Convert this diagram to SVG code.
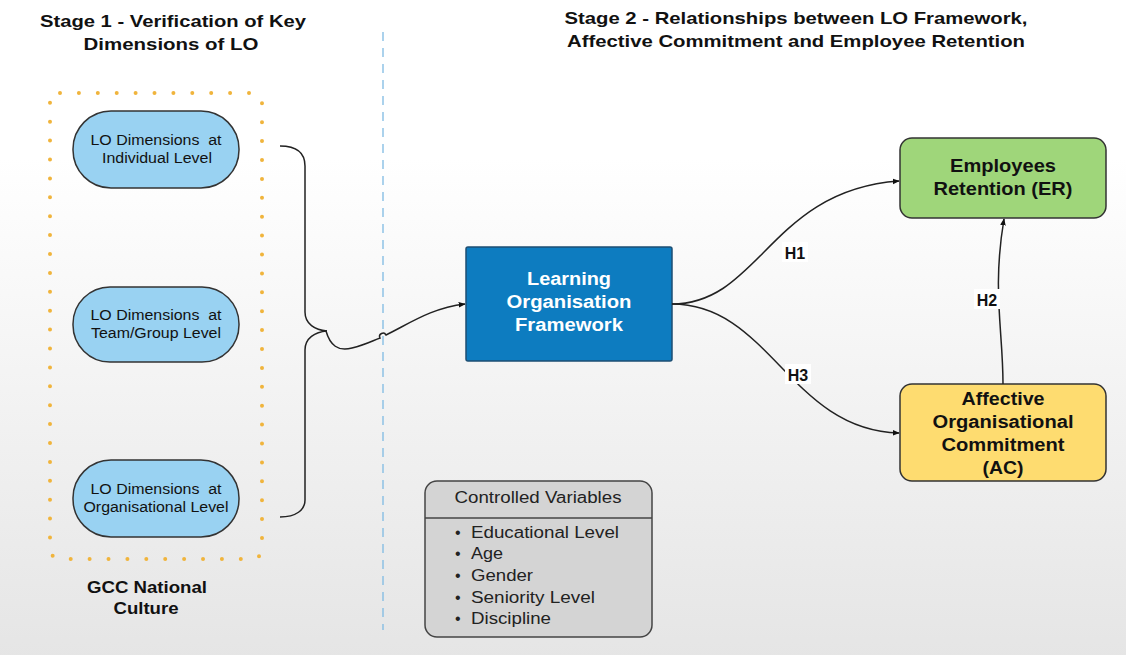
<svg xmlns="http://www.w3.org/2000/svg" width="1126" height="660" viewBox="0 0 1126 660">
<defs>
<linearGradient id="bg" x1="0" y1="0" x2="0" y2="1">
<stop offset="0.24" stop-color="#ffffff"/>
<stop offset="1" stop-color="#e5e5e5"/>
</linearGradient>
<marker id="arr" viewBox="0 0 10 10" refX="9" refY="5" markerWidth="7" markerHeight="7" orient="auto" markerUnits="userSpaceOnUse">
<path d="M0,1 L10,5 L0,9 Z" fill="#111"/>
</marker>
<style>
.t{font-family:"Liberation Sans",Arial,sans-serif;fill:#111;text-anchor:middle}
.title{font-size:17px;font-weight:bold}
.pill{fill:#99d2f2;stroke:#333;stroke-width:1.5}
.pt{font-size:14px}
.b{font-weight:bold;font-size:17.5px}
.conn{fill:none;stroke:#222;stroke-width:1.5}
.lbl{font-family:"Liberation Sans",Arial,sans-serif;font-weight:bold;font-size:16px;fill:#111;text-anchor:middle}
.cv{font-family:"Liberation Sans",Arial,sans-serif;font-size:16px;fill:#222}
</style>
</defs>
<rect x="0" y="0" width="1126" height="660" fill="url(#bg)"/>
<rect x="0" y="655" width="1126" height="5" fill="#ffffff"/>

<g id="titles">
<text class="t title" x="173" y="27" textLength="266" lengthAdjust="spacingAndGlyphs">Stage 1 - Verification of Key</text>
<text class="t title" x="171" y="50" textLength="175" lengthAdjust="spacingAndGlyphs">Dimensions of LO</text>
<text class="t title" x="796" y="24" textLength="463" lengthAdjust="spacingAndGlyphs">Stage 2 - Relationships between LO Framework,</text>
<text class="t title" x="796" y="47" textLength="458" lengthAdjust="spacingAndGlyphs">Affective Commitment and Employee Retention</text>
</g>

<g id="divider">
<line x1="383" y1="32" x2="383" y2="630" stroke="#7fbbe3" stroke-width="1.3" stroke-dasharray="9 7"/>
</g>

<g id="gcc-culture">
<rect x="50" y="93" width="212" height="466" rx="10" fill="none" stroke="#f0b43c" stroke-width="4" stroke-linecap="round" stroke-dasharray="0 18.9"/>
<text class="t title" x="147" y="593" textLength="120" lengthAdjust="spacingAndGlyphs">GCC National</text>
<text class="t title" x="146" y="614" textLength="65" lengthAdjust="spacingAndGlyphs">Culture</text>
</g>

<g id="lo-individual">
<rect class="pill" x="73" y="111" width="166" height="77" rx="38"/>
<text class="t pt" x="156" y="145" textLength="131" lengthAdjust="spacingAndGlyphs" xml:space="preserve">LO Dimensions  at</text>
<text class="t pt" x="157" y="163" textLength="110" lengthAdjust="spacingAndGlyphs">Individual Level</text>
</g>
<g id="lo-team">
<rect class="pill" x="73" y="287" width="166" height="75" rx="37"/>
<text class="t pt" x="156" y="320" textLength="131" lengthAdjust="spacingAndGlyphs" xml:space="preserve">LO Dimensions  at</text>
<text class="t pt" x="156" y="338" textLength="130" lengthAdjust="spacingAndGlyphs">Team/Group Level</text>
</g>
<g id="lo-org">
<rect class="pill" x="73" y="460" width="166" height="77" rx="38"/>
<text class="t pt" x="156" y="494" textLength="131" lengthAdjust="spacingAndGlyphs" xml:space="preserve">LO Dimensions  at</text>
<text class="t pt" x="156" y="512" textLength="145" lengthAdjust="spacingAndGlyphs">Organisational Level</text>
</g>

<g id="lo-framework">
<rect x="466" y="247" width="206" height="114" rx="2" fill="#0d7cc0" stroke="#1d4e73" stroke-width="1.5"/>
<text class="t b" x="569" y="285" textLength="84" lengthAdjust="spacingAndGlyphs" style="fill:#fff">Learning</text>
<text class="t b" x="569" y="308" textLength="125" lengthAdjust="spacingAndGlyphs" style="fill:#fff">Organisation</text>
<text class="t b" x="569" y="331" textLength="108" lengthAdjust="spacingAndGlyphs" style="fill:#fff">Framework</text>
</g>

<g id="er">
<rect x="900" y="138" width="206" height="80" rx="12" fill="#9fd67a" stroke="#333" stroke-width="1.5"/>
<text class="t b" x="1003" y="172" textLength="106" lengthAdjust="spacingAndGlyphs">Employees</text>
<text class="t b" x="1003" y="195" textLength="139" lengthAdjust="spacingAndGlyphs">Retention (ER)</text>
</g>

<g id="ac">
<rect x="900" y="384" width="206" height="97" rx="12" fill="#fedc70" stroke="#333" stroke-width="1.5"/>
<text class="t b" x="1003" y="405" textLength="83" lengthAdjust="spacingAndGlyphs">Affective</text>
<text class="t b" x="1003" y="428" textLength="141" lengthAdjust="spacingAndGlyphs">Organisational</text>
<text class="t b" x="1003" y="451" textLength="123" lengthAdjust="spacingAndGlyphs">Commitment</text>
<text class="t b" x="1003" y="474" textLength="41" lengthAdjust="spacingAndGlyphs">(AC)</text>
</g>

<g id="controlled-variables">
<rect x="425" y="481" width="227" height="156" rx="12" fill="#d4d4d4" stroke="#444" stroke-width="1.5"/>
<line x1="425" y1="518" x2="652" y2="518" stroke="#444" stroke-width="1.5"/>
<text class="cv" x="538" y="503" text-anchor="middle" textLength="167" lengthAdjust="spacingAndGlyphs">Controlled Variables</text>
<text class="cv" x="455" y="538">•</text><text class="cv" x="471" y="538" textLength="148" lengthAdjust="spacingAndGlyphs">Educational Level</text>
<text class="cv" x="455" y="559">•</text><text class="cv" x="471" y="559" textLength="32" lengthAdjust="spacingAndGlyphs">Age</text>
<text class="cv" x="455" y="581">•</text><text class="cv" x="471" y="581" textLength="62" lengthAdjust="spacingAndGlyphs">Gender</text>
<text class="cv" x="455" y="603">•</text><text class="cv" x="471" y="603" textLength="124" lengthAdjust="spacingAndGlyphs">Seniority Level</text>
<text class="cv" x="455" y="624">•</text><text class="cv" x="471" y="624" textLength="80" lengthAdjust="spacingAndGlyphs">Discipline</text>
</g>

<g id="connectors">
<path class="conn" d="M280,146 C296,146 305,152 305,166 L305,312 C305,324 315,330 327,331"/>
<path class="conn" d="M327,331 C315,332 305,338 305,350 L305,500 C305,510 296,517 280,517"/>
<path class="conn" d="M326,331 C330,345 338,352 352,348 C365,345 372,341 380,338 A3,3 0 0 1 386,335 C412,322 432,308 465,304" marker-end="url(#arr)"/>
<path class="conn" d="M672,304 C760,304 770,190 899,181" marker-end="url(#arr)"/>
<path class="conn" d="M672,304 C770,304 790,430 899,433" marker-end="url(#arr)"/>
<path class="conn" d="M1003,384 C1003,330 992,290 1004,219" marker-end="url(#arr)"/>
<rect x="782" y="242" width="26" height="20" fill="#fff"/>
<text class="lbl" x="795" y="259">H1</text>
<rect x="785" y="364" width="26" height="20" fill="#fff"/>
<text class="lbl" x="798" y="381">H3</text>
<rect x="974" y="289" width="26" height="20" fill="#fff"/>
<text class="lbl" x="987" y="306">H2</text>
</g>
</svg>
